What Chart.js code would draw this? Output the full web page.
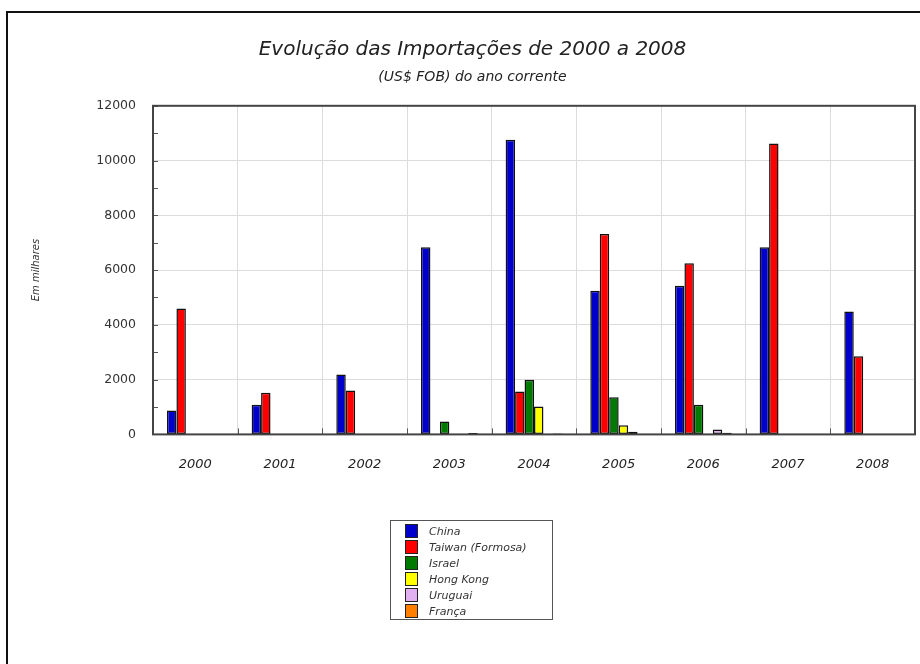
<!DOCTYPE html>
<html>
<head>
<meta charset="utf-8">
<script src="https://cdn.jsdelivr.net/npm/chart.js@4/dist/chart.umd.min.js"></script>
<style>
    body { margin: 0; background: #fff; }
    #wrap { position: relative; width: 920px; height: 664px; overflow: hidden; }
    #frame { position: absolute; left: 6px; top: 11px; width: 1000px; height: 700px; border: 2px solid #111; box-sizing: border-box; }
    #chart__imports { position: absolute; left: 0; top: 0; }
    #legend {
        position: absolute; left: 390px; top: 520px; width: 163px; height: 100px;
        border: 1px solid #555; box-sizing: border-box; padding: 2px 0 0 14px;
        font-family: 'DejaVu Sans', sans-serif; font-style: italic; font-size: 11px; color: #333;
    }
    #legend div { height: 16px; display: flex; align-items: center; }
    #legend span.box { display: inline-block; width: 11px; height: 12px; border: 1px solid #222; margin-right: 11px; }
</style>
</head>
<body>
<div id="wrap">
    <div id="frame"></div>
    <canvas id="chart__imports" width="920" height="664"></canvas>
    <div id="legend"></div>
</div>
<script>
(function () {
    const years = ['2000', '2001', '2002', '2003', '2004', '2005', '2006', '2007', '2008']
    const china = [870, 1080, 2190, 6830, 10760, 5250, 5430, 6830, 4490]
    const taiwan = [4600, 1520, 1600, 0, 1570, 7320, 6250, 10620, 2850]
    const israel = [0, 0, 0, 474, 2000, 1360, 1080, 0, 0]
    const hongKong = [0, 0, 0, 0, 1020, 330, 0, 0, 0]
    const uruguai = [0, 0, 0, 0, 0, 100, 180, 0, 0]
    const franca = [0, 0, 0, 50, 30, 0, 60, 0, 0]

    const series = [
        { label: 'China', data: china, color: '#0000cc' },
        { label: 'Taiwan (Formosa)', data: taiwan, color: '#ff0000' },
        { label: 'Israel', data: israel, color: '#007a00' },
        { label: 'Hong Kong', data: hongKong, color: '#ffff00' },
        { label: 'Uruguai', data: uruguai, color: '#e0b0f0' },
        { label: 'França', data: franca, color: '#ff8000' }
    ]

    const font = 'DejaVu Sans'

    // box round the plot and short inside tick marks
    const frameTicks = {
        id: 'frameTicks',
        afterDraw(chart) {
            const { ctx, chartArea, scales } = chart
            ctx.save()
            ctx.strokeStyle = '#555'
            ctx.lineWidth = 1
            scales.y.ticks.forEach(t => {
                const y = Math.round(scales.y.getPixelForValue(t.value)) + 0.5
                ctx.beginPath()
                ctx.moveTo(chartArea.left, y)
                ctx.lineTo(chartArea.left + 5, y)
                ctx.stroke()
            })
            for (let i = 1; i < years.length; i++) {
                const x = Math.round((scales.x.getPixelForTick(i - 1) + scales.x.getPixelForTick(i)) / 2) + 0.5
                ctx.beginPath()
                ctx.moveTo(x, chartArea.bottom)
                ctx.lineTo(x, chartArea.bottom - 6)
                ctx.stroke()
            }
            ctx.lineWidth = 2
            ctx.strokeStyle = '#444'
            ctx.strokeRect(chartArea.left, chartArea.top, chartArea.right - chartArea.left, chartArea.bottom - chartArea.top)
            ctx.restore()
        }
    }

    const chart = new Chart(
        document.getElementById('chart__imports'),
        {
            type: 'bar',
            data: {
                labels: years,
                datasets: series.map(s => ({
                    label: s.label,
                    data: s.data,
                    backgroundColor: s.color,
                    borderColor: '#111',
                    borderWidth: 1.5,
                    borderSkipped: false,
                    categoryPercentage: 0.67,
                    barPercentage: 1.0
                }))
            },
            options: {
                responsive: false,
                animation: false,
                layout: { padding: { left: 30, right: 5, top: 0, bottom: 170 } },
                plugins: {
                    legend: { display: false },
                    tooltip: { enabled: false },
                    title: {
                        display: true,
                        text: 'Evolução das Importações de 2000 a 2008',
                        color: '#222',
                        font: { family: font, size: 20, style: 'italic', weight: 'normal' },
                        padding: { top: 38, bottom: 7 }
                    },
                    subtitle: {
                        display: true,
                        text: '(US$ FOB) do ano corrente',
                        color: '#222',
                        font: { family: font, size: 14, style: 'italic' },
                        padding: { top: 0, bottom: 20 }
                    }
                },
                scales: {
                    x: {
                        grid: { color: '#dcdcdc', drawTicks: false },
                        border: { display: false },
                        ticks: {
                            color: '#222',
                            padding: 22,
                            font: { family: font, size: 13, style: 'italic' }
                        }
                    },
                    y: {
                        min: 0,
                        max: 12000,
                        grid: {
                            drawTicks: false,
                            color: c => (c.tick && c.tick.value % 2000 === 0) ? '#dcdcdc' : 'transparent'
                        },
                        border: { display: false },
                        ticks: {
                            stepSize: 1000,
                            padding: 17,
                            color: '#333',
                            font: { family: font, size: 12.5 },
                            callback: v => v % 2000 === 0 ? v : ''
                        },
                        title: {
                            display: true,
                            text: 'Em milhares',
                            color: '#333',
                            padding: 0,
                            font: { family: font, size: 10, style: 'italic' }
                        },
                        afterFit(scale) { scale.width = 123 }
                    }
                }
            },
            plugins: [frameTicks]
        }
    )

    const legend = document.getElementById('legend')
    Chart.defaults.plugins.legend.labels.generateLabels(chart).forEach(item => {
        const row = document.createElement('div')
        const box = document.createElement('span')
        box.className = 'box'
        box.style.background = item.fillStyle
        row.appendChild(box)
        row.appendChild(document.createTextNode(item.text))
        legend.appendChild(row)
    })
})();
</script>
</body>
</html>
